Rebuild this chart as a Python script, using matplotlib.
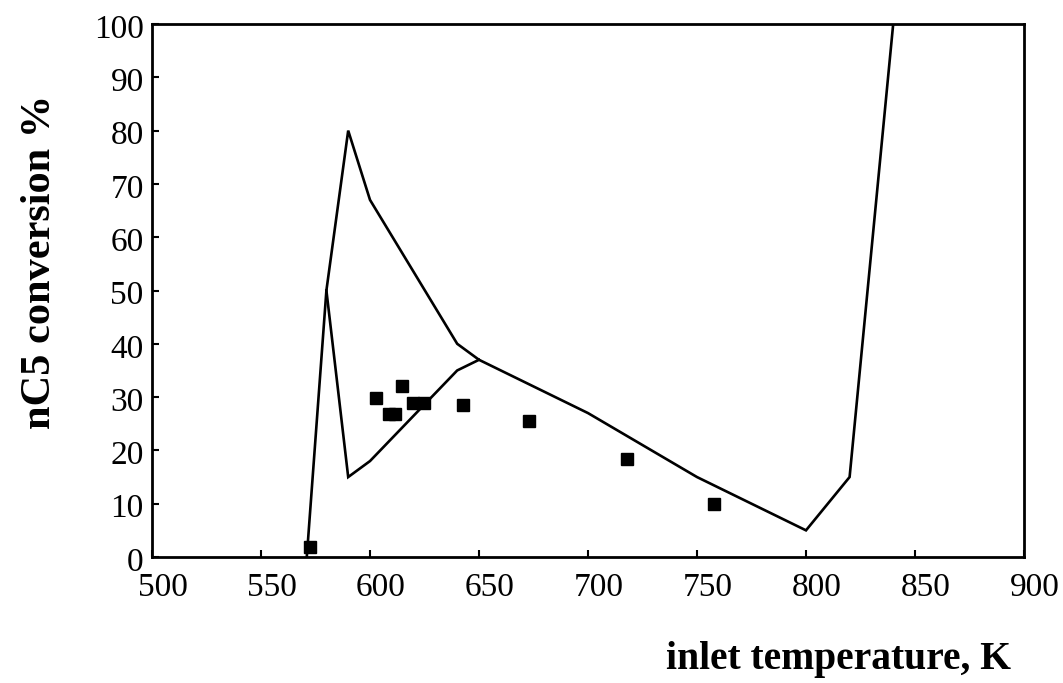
import matplotlib
matplotlib.use("Agg")
import matplotlib.pyplot as plt
from matplotlib.transforms import ScaledTranslation

# Data
ignition_T = [571, 580, 590, 600, 640, 650, 700, 750, 800, 820, 840]
ignition_conv = [0, 50, 80, 67, 40, 37, 27, 15, 5, 15, 100]
lower_T = [580, 590, 600, 640, 650]
lower_conv = [50, 15, 18, 35, 37]
exp_T = [572.5, 602.6, 614.7, 608.5, 611.5, 619.7, 624.8, 642.8, 672.8, 717.9, 757.9]
exp_conv = [1.9, 29.9, 32.0, 26.8, 26.8, 28.9, 28.9, 28.5, 25.5, 18.4, 9.9]

x_ticks = [500, 550, 600, 650, 700, 750, 800, 850, 900]
y_ticks = [0, 10, 20, 30, 40, 50, 60, 70, 80, 90, 100]

plt.rcParams['font.family'] = ['Liberation Serif', 'DejaVu Serif']

fig = plt.figure(figsize=(10.63, 6.83), dpi=100)
ax = fig.add_axes([152/1063, 1 - 557/683, (1024-152)/1063, (557-24)/683])

ax.plot(ignition_T, ignition_conv, color='black', lw=1.9, solid_joinstyle='miter')
ax.plot(lower_T, lower_conv, color='black', lw=1.9, solid_joinstyle='miter')
ax.plot(exp_T, exp_conv, linestyle='none', marker='s', markersize=8.5,
        color='black', clip_on=False)

ax.set_xlim(500, 900)
ax.set_ylim(0, 100)
ax.set_xticks(x_ticks)
ax.set_yticks(y_ticks)
ax.tick_params(direction='in', length=5, width=1.5, labelsize=24)
ax.tick_params(axis='x', pad=11)
ax.tick_params(axis='y', pad=6)
for s in ax.spines.values():
    s.set_linewidth(2)

shift_x = ScaledTranslation(11/100, 0, fig.dpi_scale_trans)
for lbl in ax.get_xticklabels():
    lbl.set_transform(lbl.get_transform() + shift_x)
shift_y = ScaledTranslation(0, -2/100, fig.dpi_scale_trans)
for lbl in ax.get_yticklabels():
    lbl.set_transform(lbl.get_transform() + shift_y)

fig.text(40/1063, 1 - 262/683, 'nC5 conversion %', rotation=90, fontsize=30.5,
         fontweight='bold', ha='center', va='center')
fig.text(839/1063, 1 - 660/683, 'inlet temperature, K', fontsize=28.5,
         fontweight='bold', ha='center', va='center')

fig.savefig('out.png', dpi=100)
